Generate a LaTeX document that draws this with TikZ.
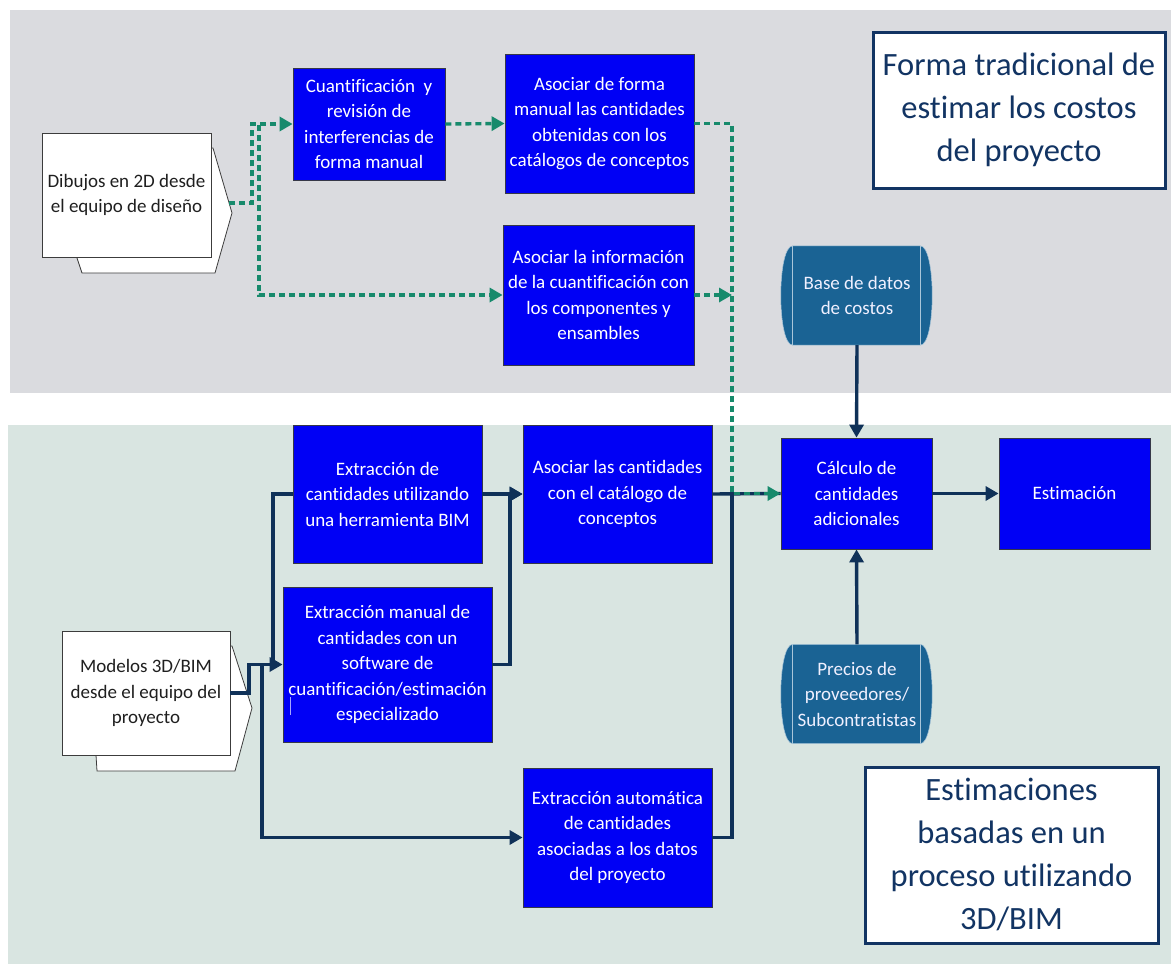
\documentclass[tikz,border=0pt]{standalone}
\usepackage{fontspec}
\setmainfont{Carlito}[Ligatures={NoCommon}]
\usetikzlibrary{arrows.meta}

\definecolor{bgtop}{HTML}{DADBDF}
\definecolor{bgbot}{HTML}{D9E5E1}
\definecolor{boxblue}{HTML}{0000F5}
\definecolor{boxedge}{HTML}{363848}
\definecolor{dbfill}{HTML}{1A6394}
\definecolor{dbline}{HTML}{A9C6DA}
\definecolor{navy}{HTML}{0F3158}
\definecolor{flowgreen}{HTML}{178A6C}
\definecolor{titleblue}{HTML}{123463}
\definecolor{docedge}{HTML}{3C3C3C}

\pgfdeclarelayer{shapes}
\pgfsetlayers{shapes,main}

\tikzset{
  txt/.style={font=\fontsize{19}{25.5}\selectfont, align=center, inner sep=0pt},
  proc/.style={txt, draw=boxedge, line width=0.8pt, fill=boxblue, text=white},
  dbnode/.style={txt, text=white!94!blue, minimum width=150pt, minimum height=99pt},
  docfront/.style={txt, draw=docedge, line width=0.8pt, fill=white, text=black!88},
  docback/.style={draw=docedge, line width=0.8pt, fill=white},
  titlebox/.style={draw=titleblue, line width=3pt, fill=white, text=titleblue,
    align=center, inner sep=0pt, font=\fontsize{32.5}{43}\selectfont},
  greenflow/.style={draw=flowgreen, line width=3.4pt, dash pattern=on 6pt off 4pt},
  navyflow/.style={draw=navy, line width=3.4pt},
  tip/.style={-{Triangle[length=13pt,width=14pt]}},
}

\begin{document}
\begin{tikzpicture}[x=1pt,y=-1pt]
\useasboundingbox (0,0) rectangle (1171,964);

% section backgrounds, document stacks and cylinder bodies
\begin{pgfonlayer}{shapes}
  \fill[white] (0,0) rectangle (1171,964);
  \fill[bgtop] (10,10) rectangle (1171,393);
  \fill[bgbot] (8,425) rectangle (1171,964);
  \path[docback] (77,148) -- (213,148) -- (232,213) -- (215,273) -- (82,273) -- (77,258) -- cycle;
  \path[docback] (96,646) -- (232,646) -- (252,708) -- (235,771) -- (97,771) -- (96,755) -- cycle;
\end{pgfonlayer}

% title boxes
\node[titlebox, minimum width=292pt, minimum height=156pt] (t1) at (1019,110)
  {Forma tradicional de\\estimar los costos\\del proyecto};
\node[titlebox, minimum width=293pt, minimum height=176pt] (t2) at (1011.5,855)
  {Estimaciones\\basadas en un\\proceso utilizando\\3D/BIM};

% input documents
\node[docfront, minimum width=169pt, minimum height=124pt] (doc1) at (126.5,195)
  {Dibujos en 2D desde\\el equipo de diseño};
\node[docfront, minimum width=168pt, minimum height=124pt] (doc2) at (146,693)
  {Modelos 3D/BIM\\desde el equipo del\\proyecto};
\coordinate (d1out) at (229,203);

% process boxes
\node[proc, minimum width=152pt, minimum height=112pt] (q) at (369,124)
  {Cuantificación~ y\\revisión de\\interferencias de\\forma manual};
\node[proc, minimum width=189pt, minimum height=139pt] (a1) at (599.5,123.5)
  {Asociar de forma\\manual las cantidades\\obtenidas con los\\catálogos de conceptos};
\node[proc, minimum width=191pt, minimum height=140pt] (a2) at (598.5,295)
  {Asociar la información\\de la cuantificación con\\los componentes y\\ensambles};
\node[proc, minimum width=189pt, minimum height=138pt] (e1) at (387.5,494)
  {Extracción de\\cantidades utilizando\\una herramienta BIM};
\node[proc, minimum width=189pt, minimum height=138pt] (a3) at (617.5,494)
  {Asociar las cantidades\\con el catálogo de\\conceptos};
\node[proc, minimum width=209pt, minimum height=155pt] (e2) at (387.5,664.5)
  {Extracción manual de\\cantidades con un\\software de\\cuantificación/estimación\\especializado};
\node[proc, minimum width=189pt, minimum height=139pt] (e3) at (617.5,837.5)
  {Extracción automática\\de cantidades\\asociadas a los datos\\del proyecto};
\node[proc, minimum width=151pt, minimum height=111pt] (calc) at (856.5,493.5)
  {Cálculo de\\cantidades\\adicionales};
\node[proc, minimum width=151pt, minimum height=111pt] (est) at (1074.5,493.5)
  {Estimación};
\draw[white!65!blue, line width=0.6pt] (290,697) -- (290,715);

% cost data stores
\node[dbnode] (db) at (857,295.5) {Base de datos\\de costos};
\node[dbnode] (pr) at (857,694) {Precios de\\proveedores/\\Subcontratistas};
\begin{pgfonlayer}{shapes}
  \foreach \n in {db,pr}{
    \path[fill=dbfill, draw=dbline, line width=0.5pt]
      ([xshift=11pt]\n.north west) -- ([xshift=-12pt]\n.north east)
      .. controls +(16pt,0) and +(16pt,0) .. ([xshift=-12pt]\n.south east)
      -- ([xshift=11pt]\n.south west)
      .. controls +(-16pt,0) and +(-16pt,0) .. cycle;
    \draw[dbline, line width=0.8pt] ([xshift=11pt]\n.north west) -- ([xshift=11pt]\n.south west);
    \draw[dbline, line width=0.8pt] ([xshift=-12pt]\n.north east) -- ([xshift=-12pt]\n.south east);
  }
\end{pgfonlayer}

% junction column shared by the right-hand connectors
\coordinate (jx) at (732,0);

% 3D/BIM flow
\draw[navyflow, tip] (doc2.east) -- (249,693) |- (e2.west);
\draw[navyflow] (doc2.east) -- (249,693) -- (249,664.5) -- (273,664.5) |- (e1.west);
\draw[navyflow, tip] (doc2.east) -- (249,693) -- (249,664.5) -- (262,664.5) |- (e3.west);
\draw[navyflow, tip] (e1.east) -- (a3.west);
\draw[navyflow, tip] (e2.east) -- (510,664.5) |- (a3.west);
\draw[navyflow] (a3.east) -- (calc.west);
\draw[navyflow] (e3.east) -- (e3.east -| jx) -- (a3.east -| jx);
\draw[navyflow, tip] (db.south) -- (calc.north);
\draw[navyflow, tip] (pr.north) -- (calc.south);
\draw[navyflow, tip] (calc.east) -- (est.west);

% traditional 2D flow
\draw[greenflow, tip] (d1out) -- (252,203) |- (q.west);
\draw[greenflow, tip] (d1out) -- (252,203) -- (252,124) -- (259,124) |- (a2.west);
\draw[greenflow, tip] (q.east) -- (a1.west);
\draw[greenflow, tip] (a1.east) -- (a1.east -| jx) -- (calc.west -| jx) -- (calc.west);
\draw[greenflow, tip] (a2.east) -- (a2.east -| jx);
\end{tikzpicture}
\end{document}
